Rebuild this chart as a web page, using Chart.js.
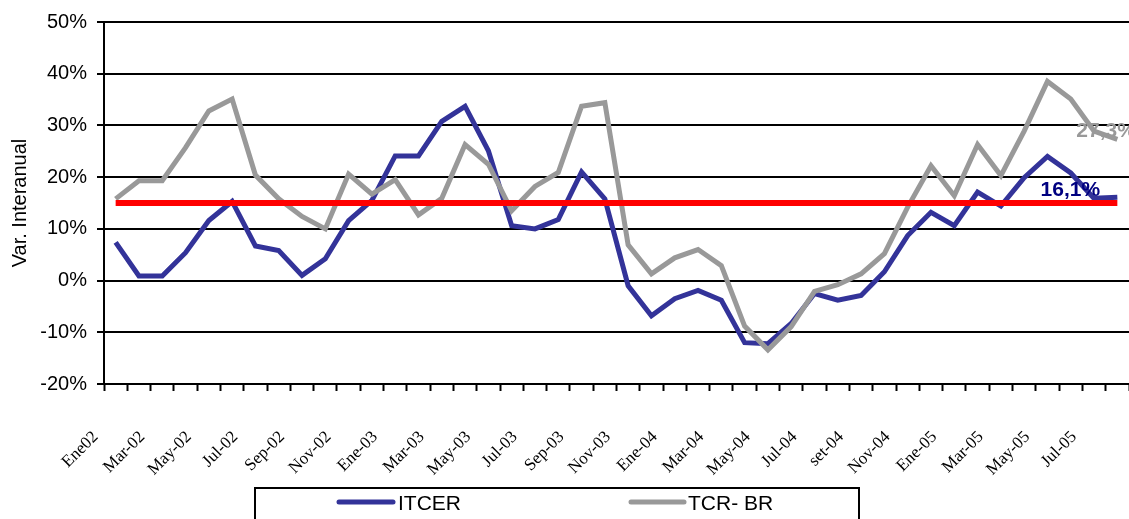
<!DOCTYPE html>
<html>
<head>
<meta charset="utf-8">
<script src="https://cdn.jsdelivr.net/npm/chart.js@4.4.1/dist/chart.umd.min.js"></script>
<style>
  html, body { margin: 0; padding: 0; background: #fff; }
  #wrap { width: 1129px; height: 519px; position: relative; }
</style>
</head>
<body>
<div id="wrap"><canvas id="chart"></canvas></div>
<script>
// months Ene-02 .. Ago-05
const meses = [
    'Ene02', 'Feb-02', 'Mar-02', 'Abr-02', 'May-02', 'Jun-02', 'Jul-02', 'Ago-02', 'Sep-02', 'Oct-02', 'Nov-02', 'Dic-02',
    'Ene-03', 'Feb-03', 'Mar-03', 'Abr-03', 'May-03', 'Jun-03', 'Jul-03', 'Ago-03', 'Sep-03', 'Oct-03', 'Nov-03', 'Dic-03',
    'Ene-04', 'Feb-04', 'Mar-04', 'Abr-04', 'May-04', 'Jun-04', 'Jul-04', 'Ago-04', 'set-04', 'Oct-04', 'Nov-04', 'Dic-04',
    'Ene-05', 'Feb-05', 'Mar-05', 'Abr-05', 'May-05', 'Jun-05', 'Jul-05', 'Ago-05'
];

const itcer = [
    7.4, 0.9, 0.9, 5.4, 11.6, 15.3, 6.7, 5.8, 1.0, 4.2, 11.6, 15.5,
    24.1, 24.1, 30.8, 33.7, 25.1, 10.6, 10.0, 11.8, 21.0, 15.8, -1.0, -6.8,
    -3.5, -1.9, -3.8, -12.0, -12.2, -8.3, -2.5, -3.8, -2.9, 1.7, 8.7, 13.2,
    10.6, 17.1, 14.4, 19.9, 24.0, 20.8, 15.9, 16.1
];

const tcrBr = [
    15.8, 19.3, 19.3, 25.7, 32.8, 35.1, 20.4, 15.8, 12.4, 10.0, 20.6, 16.7,
    19.5, 12.7, 15.9, 26.3, 22.5, 13.5, 18.2, 20.9, 33.7, 34.4, 6.9, 1.3,
    4.4, 6.0, 2.9, -8.8, -13.4, -8.9, -2.1, -0.8, 1.3, 5.2, 14.2, 22.2,
    16.4, 26.3, 20.3, 28.9, 38.5, 35.1, 28.9, 27.3
];

const umbral = 15; // red reference line
const yTicks = [-20, -10, 0, 10, 20, 30, 40, 50];

const SANS = "'Liberation Sans', Arial, sans-serif";
const SERIF = "'Liberation Serif', 'Times New Roman', serif";

function fmtPct(v) {
    return v.toFixed(1).replace('.', ',') + '%';
}

// value labels at the end of the two series
const endLabels = {
    id: 'endLabels',
    afterDatasetsDraw(chart) {
        const ctx = chart.ctx;
        const spots = [
            { ds: 1, color: '#000080', dx: -47, dy: -7, align: 'center' },
            { ds: 2, color: '#999999', dx: -41, dy: -8, align: 'left' }
        ];
        ctx.save();
        ctx.font = 'bold 21px ' + SANS;
        ctx.textBaseline = 'middle';
        spots.forEach(s => {
            const meta = chart.getDatasetMeta(s.ds);
            const data = chart.data.datasets[s.ds].data;
            const pt = meta.data[meta.data.length - 1];
            ctx.fillStyle = s.color;
            ctx.textAlign = s.align;
            ctx.fillText(fmtPct(data[data.length - 1]), pt.x + s.dx, pt.y + s.dy);
        });
        ctx.restore();
    }
};

// boxed legend at the bottom (cut by the page edge like the original)
const boxLegend = {
    id: 'boxLegend',
    afterDraw(chart) {
        const ctx = chart.ctx;
        ctx.save();
        ctx.strokeStyle = '#000';
        ctx.lineWidth = 2;
        ctx.strokeRect(255, 488, 604, 60);
        const items = [
            { ds: 1, x0: 339, x1: 393, tx: 398 },
            { ds: 2, x0: 631, x1: 684, tx: 688 }
        ];
        ctx.font = '21px ' + SANS;
        ctx.textBaseline = 'middle';
        ctx.textAlign = 'left';
        items.forEach(it => {
            const d = chart.data.datasets[it.ds];
            ctx.strokeStyle = d.borderColor;
            ctx.lineWidth = 5;
            ctx.lineCap = 'round';
            ctx.beginPath();
            ctx.moveTo(it.x0, 502);
            ctx.lineTo(it.x1, 502);
            ctx.stroke();
            ctx.fillStyle = '#000';
            ctx.fillText(d.label, it.tx, 504);
        });
        ctx.restore();
    }
};

new Chart(document.getElementById('chart').getContext('2d'), {
    type: 'line',
    data: {
        labels: meses,
        datasets: [
            {
                label: 'Umbral',
                data: [{ x: meses[0], y: umbral }, { x: meses[meses.length - 1], y: umbral }],
                borderColor: '#ff0000',
                borderWidth: 6,
                pointRadius: 0,
                order: 0
            },
            {
                label: 'ITCER',
                data: itcer,
                borderColor: '#333399',
                borderWidth: 5,
                pointRadius: 0,
                tension: 0,
                order: 2
            },
            {
                label: 'TCR- BR',
                data: tcrBr,
                borderColor: '#999999',
                borderWidth: 5,
                pointRadius: 0,
                tension: 0,
                order: 1
            }
        ]
    },
    options: {
        responsive: true,
        maintainAspectRatio: false,
        animation: false,
        layout: { padding: { top: 22, right: 0, left: 0, bottom: 0 } },
        plugins: {
            legend: { display: false },
            tooltip: { enabled: false }
        },
        scales: {
            x: {
                offset: true,
                grid: {
                    offset: true,
                    drawOnChartArea: false,
                    drawTicks: true,
                    tickLength: 7,
                    tickWidth: 2,
                    tickColor: '#000'
                },
                border: { display: true, color: '#000', width: 2 },
                ticks: {
                    autoSkip: false,
                    minRotation: 45,
                    maxRotation: 45,
                    padding: 36,
                    labelOffset: -20,
                    color: '#000',
                    font: { family: SERIF, size: 17 },
                    callback: function (value, index) {
                        return index % 2 === 0 ? meses[index] : '';
                    }
                },
                afterFit: function (scale) {
                    scale.height = 135;
                    scale.paddingLeft = 0;
                    scale.paddingRight = 0;
                }
            },
            y: {
                min: yTicks[0],
                max: yTicks[yTicks.length - 1],
                afterBuildTicks: function (scale) {
                    scale.ticks = yTicks.map(v => ({ value: v }));
                },
                grid: {
                    color: '#000',
                    lineWidth: 2,
                    drawTicks: true,
                    tickLength: 7
                },
                border: { display: true, color: '#000', width: 2 },
                ticks: {
                    padding: 10,
                    color: '#000',
                    font: { family: SANS, size: 20 },
                    callback: v => v + '%'
                },
                title: {
                    display: true,
                    text: 'Var. Interanual',
                    color: '#000',
                    font: { family: SANS, size: 20 },
                    padding: { top: 8, bottom: 0 }
                },
                afterFit: function (scale) {
                    scale.width = 104;
                    scale.paddingTop = 0;
                    scale.paddingBottom = 0;
                }
            }
        }
    },
    plugins: [endLabels, boxLegend]
});
</script>
</body>
</html>
